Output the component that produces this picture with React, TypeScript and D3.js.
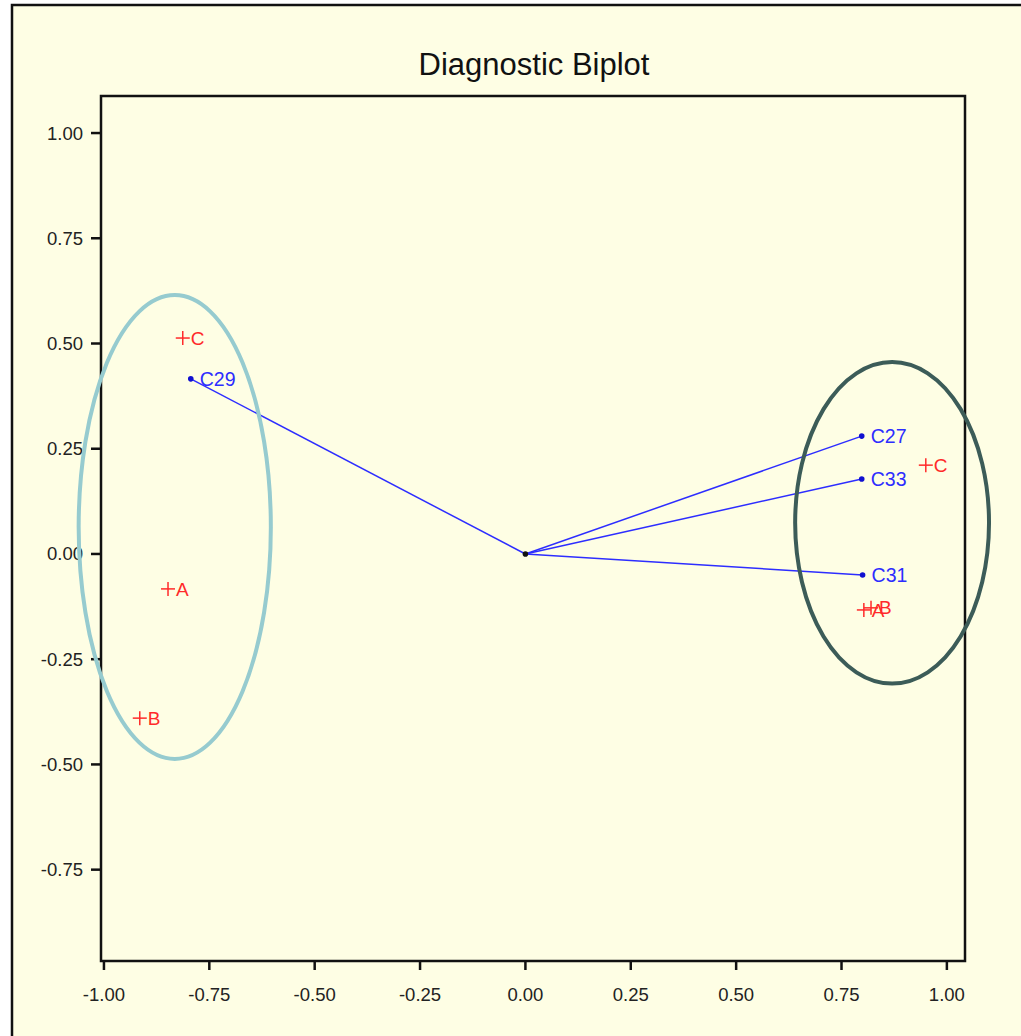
import React from "react";
import * as d3 from "d3";

const W = 1021;
const H = 1036;

const xTicks = [-1, -0.75, -0.5, -0.25, 0, 0.25, 0.5, 0.75, 1];
const yTicks = [1, 0.75, 0.5, 0.25, 0, -0.25, -0.5, -0.75];

const vectorNames = ["C29", "C27", "C33", "C31"];
const vectorX = [-0.794, 0.798, 0.798, 0.8];
const vectorY = [0.416, 0.28, 0.178, -0.05];

const pointNames = ["C", "A", "B", "C", "A", "B"];
const pointX = [-0.813, -0.848, -0.915, 0.95, 0.803, 0.82];
const pointY = [0.513, -0.083, -0.39, 0.211, -0.133, -0.128];

const ellipseCx = [-0.832, 0.87];
const ellipseCy = [0.064, 0.074];
const ellipseRx = [0.228, 0.23];
const ellipseRy = [0.551, 0.382];
const ellipseColors = ["#96cbcf", "#3c5c58"];

export default function App() {
  const left = 101, right = 965, top = 96, bottom = 961;
  const x = d3.scaleLinear().domain([-1.007, 1.043]).range([left, right]);
  const y = d3.scaleLinear().domain([-0.967, 1.088]).range([bottom, top]);
  const f = d3.format(".2f");
  const fmt = (v: number) => f(v).replace("\u2212", "-");
  const font = "'Liberation Sans', Arial, sans-serif";
  const blue = "#2d2dff";
  const red = "#ff2a2a";

  return (
    <svg width={W} height={H} style={{ position: "absolute", left: 0, top: 0, background: "#ffffff" }} fontFamily={font}>
      <rect x={12} y={5} width={W + 10} height={H + 10} fill="#fefee4" stroke="#111" strokeWidth={2.5} />
      <text x={534} y={75} textAnchor="middle" fontSize={31} fill="#111">Diagnostic Biplot</text>
      <rect x={left} y={top} width={right - left} height={bottom - top} fill="#fefee4" stroke="#111" strokeWidth={2.5} />
      {xTicks.map((t, i) => (
        <g key={"xt" + i}>
          <line x1={x(t)} x2={x(t)} y1={bottom} y2={bottom + 9} stroke="#111" strokeWidth={2.5} />
          <text x={x(t)} y={bottom + 40} textAnchor="middle" fontSize={18.5} fill="#222">{fmt(t)}</text>
        </g>
      ))}
      {yTicks.map((t, i) => (
        <g key={"yt" + i}>
          <line x1={left - 10} x2={left} y1={y(t)} y2={y(t)} stroke="#111" strokeWidth={2.5} />
          <text x={83} y={y(t)} dy="0.35em" textAnchor="end" fontSize={18.5} fill="#222">{fmt(t)}</text>
        </g>
      ))}
      {vectorNames.map((n, i) => (
        <g key={"v" + i}>
          <line x1={x(0)} y1={y(0)} x2={x(vectorX[i])} y2={y(vectorY[i])} stroke={blue} strokeWidth={1.5} />
          <circle cx={x(vectorX[i])} cy={y(vectorY[i])} r={2.8} fill="#1010d0" />
          <text x={x(vectorX[i]) + 9} y={y(vectorY[i])} dy="0.35em" fontSize={19.5} fill={blue}>{n}</text>
        </g>
      ))}
      <circle cx={x(0)} cy={y(0)} r={2.8} fill="#111" />
      {pointNames.map((n, i) => {
        const px = x(pointX[i]);
        const py = y(pointY[i]);
        return (
          <g key={"p" + i}>
            <line x1={px - 7} x2={px + 7} y1={py} y2={py} stroke={red} strokeWidth={1.5} />
            <line x1={px} x2={px} y1={py - 7} y2={py + 7} stroke={red} strokeWidth={1.5} />
            <text x={px + 8} y={py} dy="0.35em" fontSize={19} fill={red}>{n}</text>
          </g>
        );
      })}
      {ellipseCx.map((c, i) => (
        <ellipse
          key={"e" + i}
          cx={x(c)}
          cy={y(ellipseCy[i])}
          rx={x(ellipseRx[i]) - x(0)}
          ry={y(0) - y(ellipseRy[i])}
          fill="none"
          stroke={ellipseColors[i]}
          strokeWidth={4}
        />
      ))}
    </svg>
  );
}
